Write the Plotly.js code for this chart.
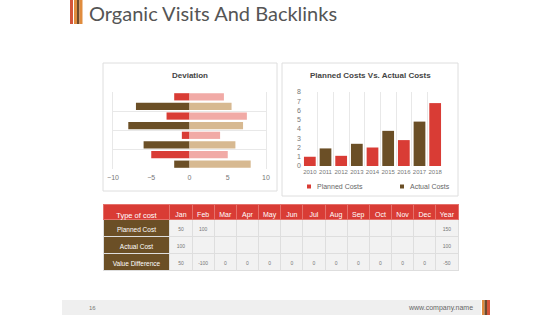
<!DOCTYPE html>
<html>
<head>
<meta charset="utf-8">
<script src="https://cdn.plot.ly/plotly-3.0.1.min.js"></script>
<style>html,body{margin:0;padding:0;background:#fff;overflow:hidden;}#chart{width:560px;height:315px;}</style>
</head>
<body>
<div id="chart"></div>
<script>
// ---- Deviation chart data (rows top to bottom) ----
const devRows = ['R1','R2','R3','R4','R5','R6','R7','R8'];
const devNegative = [-2, -7, -3, -8, -1, -6, -5, -2];
const devPositive = [4.5, 5.5, 7.5, 7, 4, 6, 5, 8];

// ---- Planned vs actual chart data ----
const years = ['2010','2011','2012','2013','2014','2015','2016','2017','2018'];
const plannedCosts = [1, null, 1.1, null, 2, null, 2.8, null, 6.8];
const actualCosts = [null, 1.9, null, 2.4, null, 3.8, null, 4.8, null];
const seriesNames = ['Planned Costs', 'Actual Costs'];

// ---- Table data ----
const tableHeader = ['Type of cost','Jan','Feb','Mar','Apr','May','Jun','Jul','Aug','Sep','Oct','Nov','Dec','Year'];
const rowLabels = ['Planned Cost','Actual Cost','Value Difference'];
const plannedRow = ['50','100','','','','','','','','','','','150'];
const actualRow = ['100','','','','','','','','','','','','100'];
const differenceRow = ['50','-100','0','0','0','0','0','0','0','0','0','0','-50'];

const RED = '#d93c35', BROWN = '#6b4f26', PINK = '#f1aaa6', TAN = '#d7b991';
const W = 560, H = 315;
const px = v => v / W, py = v => 1 - v / H;

const negColors = devRows.map((r, i) => i % 2 === 0 ? RED : BROWN);
const posColors = devRows.map((r, i) => i % 2 === 0 ? PINK : TAN);

const tableColumns = [rowLabels];
for (let c = 0; c < plannedRow.length; c++) {
  tableColumns.push([plannedRow[c], actualRow[c], differenceRow[c]]);
}
const cellFill = tableColumns.map((col, i) => i === 0 ? [BROWN, BROWN, BROWN] : ['#f2f2f2','#f2f2f2','#f2f2f2']);
const cellFontColor = tableColumns.map((col, i) => i === 0 ? '#ffffff' : '#777777');
const cellFontSize = tableColumns.map((col, i) => i === 0 ? 6.5 : 5);
const headerFontSize = tableHeader.map((h, i) => i === 0 ? 7.5 : 7);

const traces = [
  {type:'bar', orientation:'h', y: devRows, x: devNegative, marker:{color: negColors}, xaxis:'x', yaxis:'y', showlegend:false, hoverinfo:'skip'},
  {type:'bar', orientation:'h', y: devRows, x: devPositive, marker:{color: posColors}, xaxis:'x', yaxis:'y', showlegend:false, hoverinfo:'skip'},
  {type:'bar', x: years, y: plannedCosts, name: seriesNames[0], marker:{color: RED}, xaxis:'x2', yaxis:'y2', showlegend:false},
  {type:'bar', x: years, y: actualCosts, name: seriesNames[1], marker:{color: BROWN}, xaxis:'x2', yaxis:'y2', showlegend:false},
  {type:'table',
   domain:{x:[px(103), px(458)], y:[py(273), py(204)]},
   columnwidth:[67].concat(plannedRow.map(() => 22.2)),
   header:{values: tableHeader, fill:{color: RED}, line:{color:'#e5716b', width:1},
           font:{family:'Liberation Sans, Arial', size: headerFontSize, color:'#ffffff'}, align:'center', height:15},
   cells:{values: tableColumns, fill:{color: cellFill}, line:{color:'#dedede', width:1},
          font:{family:'Liberation Sans, Arial', size: cellFontSize, color: cellFontColor}, align:'center', height:17}
  }
];

const gridC = '#e8e8e8';
const tickFont = {family:'Liberation Sans, Arial', size:7, color:'#777'};

const layout = {
  width: W, height: H,
  margin:{l:0, r:0, t:0, b:0},
  paper_bgcolor:'#ffffff', plot_bgcolor:'rgba(0,0,0,0)',
  barmode:'relative',
  bargap: 0.25,
  showlegend:false,
  font:{family:'Liberation Sans, Arial'},
  xaxis:{domain:[px(113), px(266)], range:[-10,10], dtick:5, showgrid:false, zeroline:false,
         tickfont:tickFont, ticks:'', ticklabelstandoff:3, anchor:'y', fixedrange:true},
  yaxis:{domain:[py(169), py(92)], type:'category', autorange:'reversed', showticklabels:false,
         showgrid:true, gridcolor:gridC, tickson:'boundaries', ticks:'', showline:true, mirror:true,
         linecolor:gridC, linewidth:1, anchor:'x', fixedrange:true},
  xaxis2:{domain:[px(302), px(443)], type:'category', showgrid:true, gridcolor:gridC, tickson:'boundaries',
          ticks:'', tickangle:0, ticklabelstandoff:1, tickfont:{family:'Liberation Sans, Arial', size:6, color:'#777'}, anchor:'y2', fixedrange:true},
  yaxis2:{domain:[py(166), py(92)], range:[0,8], dtick:1, showgrid:false, zeroline:false, ticks:'',
          tickfont:tickFont, anchor:'x2', fixedrange:true},
  shapes:[
    // title stripes
    {type:'rect', xref:'paper', yref:'paper', x0:px(70), x1:px(73), y0:py(24), y1:py(0), fillcolor:'#d4553b', line:{width:0}},
    {type:'rect', xref:'paper', yref:'paper', x0:px(74), x1:px(77), y0:py(24), y1:py(0), fillcolor:'#e08c3e', line:{width:0}},
    {type:'rect', xref:'paper', yref:'paper', x0:px(77), x1:px(79.5), y0:py(24), y1:py(0), fillcolor:'#6e4a2b', line:{width:0}},
    {type:'rect', xref:'paper', yref:'paper', x0:px(79.5), x1:px(82.5), y0:py(24), y1:py(0), fillcolor:'#e08c3e', line:{width:0}},
    // panels
    {type:'rect', xref:'paper', yref:'paper', x0:px(103), x1:px(277), y0:py(191), y1:py(63), fillcolor:'rgba(0,0,0,0)', line:{color:'#dedede', width:1}, layer:'below'},
    {type:'rect', xref:'paper', yref:'paper', x0:px(282), x1:px(458), y0:py(196), y1:py(63), fillcolor:'rgba(0,0,0,0)', line:{color:'#dedede', width:1}, layer:'below'},
    // legend swatches
    {type:'rect', xref:'paper', yref:'paper', x0:px(307), x1:px(311), y0:py(188.5), y1:py(184.5), fillcolor:RED, line:{width:0}},
    {type:'rect', xref:'paper', yref:'paper', x0:px(400), x1:px(404), y0:py(188.5), y1:py(184.5), fillcolor:BROWN, line:{width:0}},
    // footer
    {type:'rect', xref:'paper', yref:'paper', x0:px(62), x1:px(481), y0:py(315), y1:py(300), fillcolor:'#efefef', line:{width:0}, layer:'below'},
    {type:'rect', xref:'paper', yref:'paper', x0:px(482), x1:px(484.5), y0:py(315), y1:py(300), fillcolor:'#e08c3e', line:{width:0}},
    {type:'rect', xref:'paper', yref:'paper', x0:px(484.5), x1:px(487), y0:py(315), y1:py(300), fillcolor:'#6e4a2b', line:{width:0}},
    {type:'rect', xref:'paper', yref:'paper', x0:px(487), x1:px(490), y0:py(315), y1:py(300), fillcolor:'#d4553b', line:{width:0}}
  ],
  annotations:[
    {text:'Organic Visits And Backlinks', xref:'paper', yref:'paper', x:px(87), y:py(13), xanchor:'left', yanchor:'middle',
     showarrow:false, font:{family:'Lato, Open Sans', size:20, color:'#555555'}},
    {text:'<b>Deviation</b>', xref:'paper', yref:'paper', x:px(190), y:py(75), xanchor:'center', yanchor:'middle',
     showarrow:false, font:{family:'Liberation Sans, Arial', size:8, color:'#444'}},
    {text:'<b>Planned Costs Vs. Actual Costs</b>', xref:'paper', yref:'paper', x:px(370), y:py(75), xanchor:'center', yanchor:'middle',
     showarrow:false, font:{family:'Liberation Sans, Arial', size:8, color:'#444'}},
    {text: seriesNames[0], xref:'paper', yref:'paper', x:px(315), y:py(186.5), xanchor:'left', yanchor:'middle',
     showarrow:false, font:{family:'Liberation Sans, Arial', size:7, color:'#666'}},
    {text: seriesNames[1], xref:'paper', yref:'paper', x:px(408), y:py(186.5), xanchor:'left', yanchor:'middle',
     showarrow:false, font:{family:'Liberation Sans, Arial', size:7, color:'#666'}},
    {text:'16', xref:'paper', yref:'paper', x:px(92), y:py(308), xanchor:'center', yanchor:'middle',
     showarrow:false, font:{family:'Liberation Sans, Arial', size:6, color:'#777'}},
    {text:'www.company.name', xref:'paper', yref:'paper', x:px(475), y:py(308), xanchor:'right', yanchor:'middle',
     showarrow:false, font:{family:'Liberation Sans, Arial', size:7, color:'#666'}}
  ]
};

Plotly.newPlot('chart', traces, layout, {displayModeBar:false, staticPlot:true});
</script>
</body>
</html>
